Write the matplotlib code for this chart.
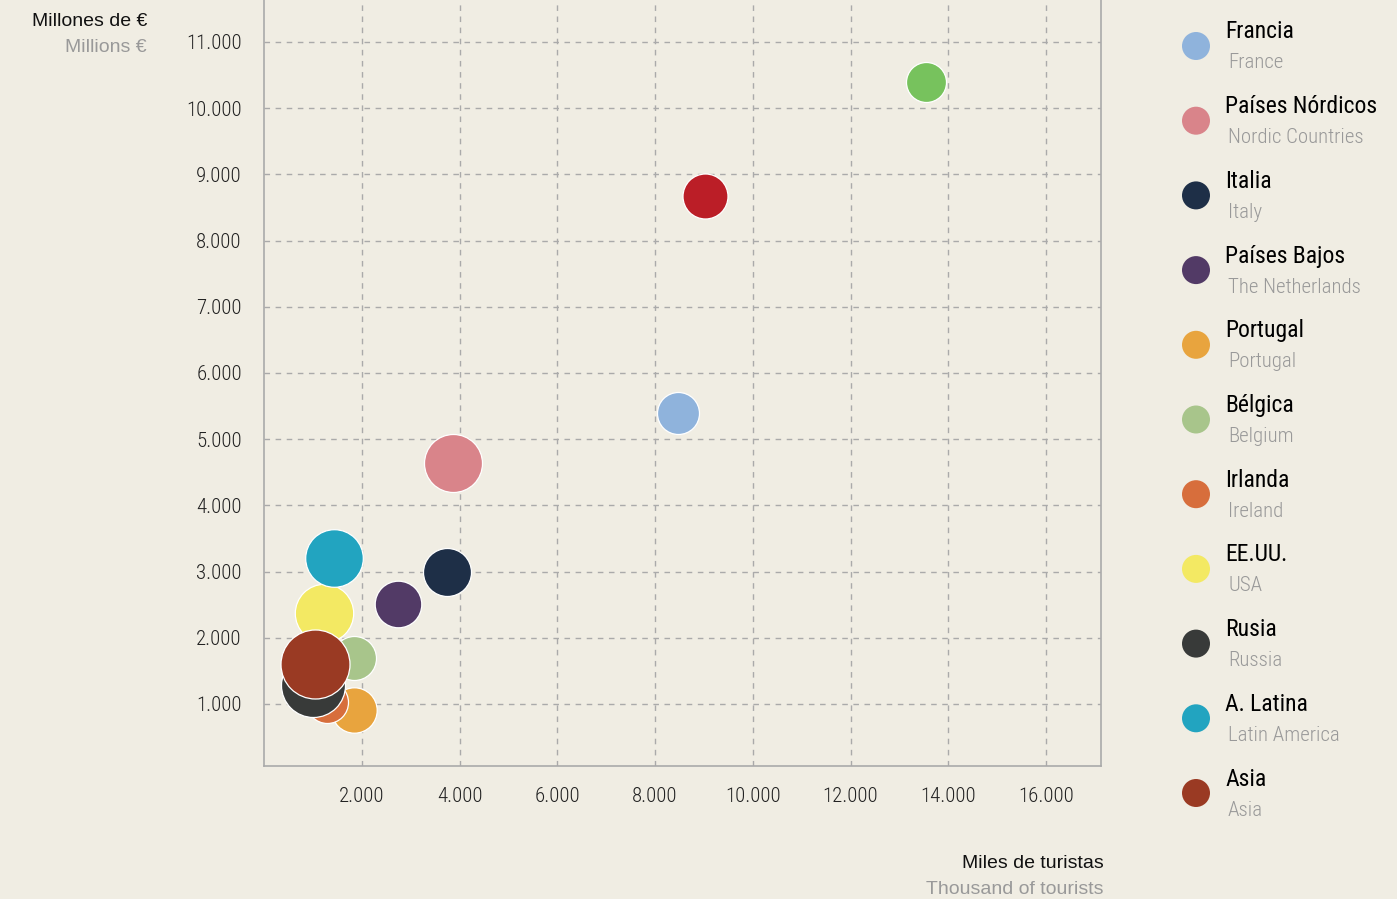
import matplotlib
matplotlib.use("Agg")
import matplotlib.pyplot as plt
from matplotlib import font_manager

# datos: miles de turistas (x), millones de euros (y), tamaño relativo de la burbuja
paises = ["Reino Unido", "Alemania", "Francia", "Países Nórdicos", "Italia",
          "Países Bajos", "Portugal", "Bélgica", "Irlanda", "EE.UU.",
          "Rusia", "A. Latina", "Asia"]
paises_en = ["United Kingdom", "Germany", "France", "Nordic Countries", "Italy",
             "The Netherlands", "Portugal", "Belgium", "Ireland", "USA",
             "Russia", "Latin America", "Asia"]
turistas = [13550, 9030, 8480, 3860, 3750, 2740, 1845, 1835, 1290, 1220,
            995, 1425, 1040]
gasto = [10390, 8670, 5390, 4640, 2990, 2505, 910, 1695, 1030, 2380,
         1290, 3200, 1605]
burbuja = [20, 22.5, 21, 29, 24, 23.3, 22.7, 22, 21, 29.2, 32, 28.8, 34.5]
colores = ["#77c25d", "#bb1e27", "#8fb3dc", "#d9848a", "#1e2f47",
           "#523a66", "#e8a43e", "#a8c58b", "#d76e3c", "#f3e963",
           "#383a39", "#22a4c0", "#9a3a23"]

xticks = [2000, 4000, 6000, 8000, 10000, 12000, 14000, 16000]
yticks = [1000, 2000, 3000, 4000, 5000, 6000, 7000, 8000, 9000, 10000, 11000]

BG = "#f0ede3"
GRID = "#aaaaaa"

# fuente estrecha si existe
nombres = {f.name for f in font_manager.fontManager.ttflist}
estrecha = None
for cand in ["Roboto Condensed", "Liberation Sans Narrow", "Open Sans Condensed",
             "DejaVu Sans Condensed"]:
    if cand in nombres:
        estrecha = cand
        break
if estrecha is None:
    estrecha = "DejaVu Sans"
normal = "Liberation Sans"

W, H = 1397, 899
fig = plt.figure(figsize=(W / 100, H / 100), dpi=100, facecolor=BG)

ax = fig.add_axes([264 / W, (H - 766) / H, (1101 - 264) / W, 766 / H])
ax.set_facecolor(BG)
ax.set_xlim(0, 17124)
ax.set_ylim(63, 11634)

px = 0.72  # puntos por pixel
for i in range(len(paises)):
    d = 2 * burbuja[i] * px
    ax.scatter(turistas[i], gasto[i], s=d ** 2, color=colores[i],
               edgecolor="white", linewidth=0.9, zorder=3 + i)

ax.set_xticks(xticks)
ax.set_yticks(yticks)
ax.set_xticklabels([f"{v:,}".replace(",", ".") for v in xticks],
                   family=estrecha, fontsize=15, fontweight="light", color="#222222")
ax.set_yticklabels([f"{v:,}".replace(",", ".") for v in yticks],
                   family=estrecha, fontsize=15, fontweight="light", color="#222222")
ax.tick_params(axis="both", length=0)
ax.tick_params(axis="x", pad=15)
ax.tick_params(axis="y", pad=16)
ax.grid(True, color=GRID, linestyle=(0, (4, 4)), linewidth=1)
ax.set_axisbelow(True)
ax.spines["top"].set_visible(False)
for s in ["left", "bottom", "right"]:
    ax.spines[s].set_color(GRID)
    ax.spines[s].set_linewidth(1.2)

# títulos de ejes
fig.text(147 / W, 1 - 22 / H, "Millones de €", ha="right", va="center",
         family=normal, fontsize=14, color="#111111")
fig.text(147 / W, 1 - 48 / H, "Millions €", ha="right", va="center",
         family=normal, fontsize=14, color="#999999")
fig.text(1104 / W, 1 - 864 / H, "Miles de turistas", ha="right", va="center",
         family=normal, fontsize=14, color="#111111")
fig.text(1104 / W, 1 - 889 / H, "Thousand of tourists", ha="right", va="center",
         family=normal, fontsize=14, color="#999999")

# leyenda manual (las dos primeras entradas quedan fuera del recorte)
lg = fig.add_axes([0, 0, 1, 1], facecolor="none")
lg.set_xlim(0, W)
lg.set_ylim(H, 0)
lg.axis("off")
for i in range(len(paises)):
    yc = 46 + 74.7 * (i - 2)
    if yc < 20:
        continue
    lg.scatter(1196, yc, s=(28 * px) ** 2, color=colores[i], edgecolor="none")
    lg.text(1225, yc - 14, paises[i], ha="left", va="center", family=estrecha,
            fontsize=17, fontweight="normal", color="#000000")
    lg.text(1228, yc + 17, paises_en[i], ha="left", va="center", family=estrecha,
            fontsize=15, fontweight="light", color="#999999")

fig.savefig("out.png", dpi=100, facecolor=BG)
